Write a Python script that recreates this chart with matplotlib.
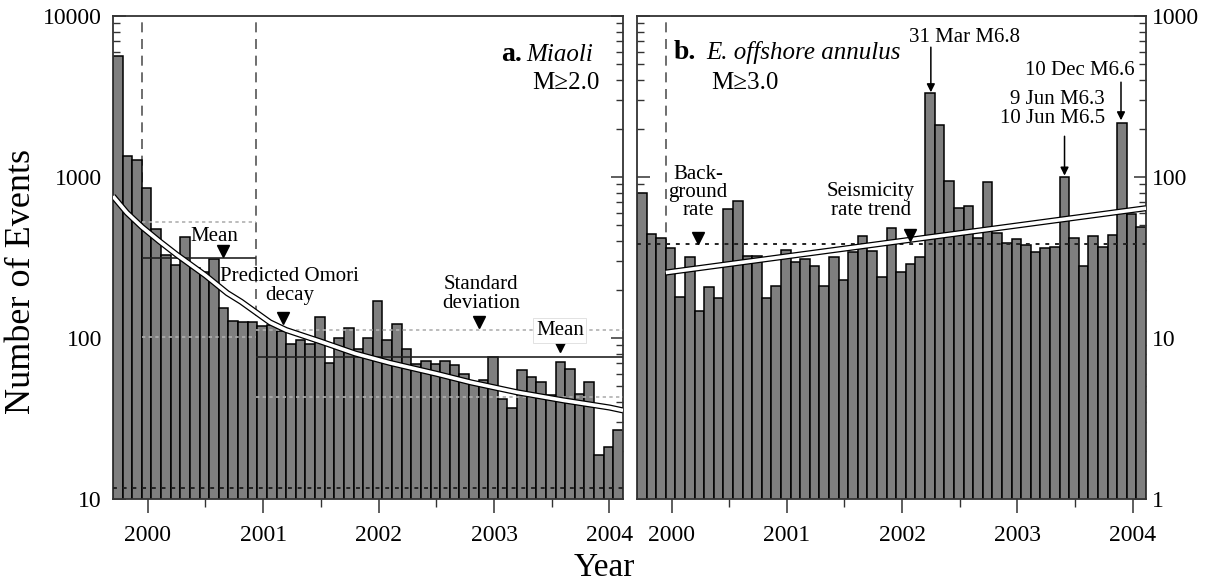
import numpy as np
import matplotlib.pyplot as plt
from matplotlib.ticker import FixedLocator, FuncFormatter, LogLocator, NullFormatter

plt.rcParams['font.family'] = ['Liberation Serif', 'DejaVu Serif']

# monthly bins starting at the Chi-Chi mainshock
BIN_START = 1999.70
BIN_W = 1.0 / 12

miaoli_counts = [5650, 1350, 1280, 850, 475, 328, 285, 425, 272, 257, 310,
                 153, 128, 126, 126, 118, 120, 110, 92, 97, 92, 135, 70, 100,
                 115, 85, 100, 170, 97, 123, 85, 69, 72, 69, 72, 68, 60, 52,
                 55, 76, 42, 37, 63, 57, 53, 44, 71, 64, 45, 53, 18.7, 21, 27]

offshore_counts = [79, 44, 42, 36, 18, 32, 14.8, 20.6, 17.7, 63, 71, 32.5,
                   32.5, 17.8, 21, 35, 29.7, 31, 28, 21, 32, 23, 34, 43, 34.5,
                   24, 48, 25.6, 29, 32, 331, 209, 95, 64, 66, 42, 93, 44.6,
                   39, 41, 38, 34, 36, 36.5, 100, 42, 28, 43, 36.5, 43.5, 216,
                   59, 49]

# Miaoli mean / standard deviation levels for the two windows
win1 = (1999.95, 2000.94)
win1_mean, win1_hi, win1_lo = 315, 525, 102
win2 = (2000.94, 2004.117)
win2_mean, win2_hi, win2_lo = 76, 112, 43
miaoli_floor = 11.7

# predicted Omori decay
omori_years = [1999.70, 1999.82, 1999.95, 2000.10, 2000.25, 2000.50, 2000.69,
               2000.81, 2001.06, 2001.20, 2001.50, 2001.80, 2002.10, 2002.50,
               2002.80, 2003.20, 2003.60, 2004.00, 2004.117]
omori_vals = [760, 600, 490, 400, 330, 245, 190, 168, 125, 112, 95, 80, 70,
              60, 53, 46, 41, 37, 35.5]

# E. offshore annulus background rate and rate trend
offshore_bg = 38.6
trend_years = [1999.95, 2004.117]
trend_vals = [25.5, 64]

XMIN, XMAX = 1999.70, 2004.117
BAR_C = '#7f7f7f'
SPINE_C = '#333333'

fig = plt.figure(figsize=(12.09, 5.87), dpi=100)
axa = fig.add_axes([113/1209, 88/587, 510/1209, 483/587])
axb = fig.add_axes([637/1209, 88/587, 509/1209, 483/587])


def style_axis(ax, ymin, ymax):
    ax.set_yscale('log')
    ax.set_xlim(XMIN, XMAX)
    ax.set_ylim(ymin, ymax)
    majors = [10.0**k for k in range(int(np.log10(ymin)), int(np.log10(ymax)) + 1)]
    ax.yaxis.set_major_locator(FixedLocator(majors))
    ax.yaxis.set_major_formatter(FuncFormatter(lambda v, _: f"{int(round(v))}"))
    ax.yaxis.set_minor_locator(LogLocator(base=10, subs=np.arange(2, 10)))
    ax.yaxis.set_minor_formatter(NullFormatter())
    ax.xaxis.set_major_locator(FixedLocator([2000, 2001, 2002, 2003, 2004]))
    ax.xaxis.set_major_formatter(FuncFormatter(lambda v, _: f"{int(round(v))}"))
    ax.xaxis.set_minor_locator(FixedLocator([2000.5, 2001.5, 2002.5, 2003.5]))
    ax.tick_params(axis='y', which='both', direction='in', left=True, right=True,
                   color=SPINE_C, labelsize=17)
    ax.tick_params(axis='y', which='major', length=9, width=1.1)
    ax.tick_params(axis='y', which='minor', length=5, width=1.0)
    ax.tick_params(axis='x', which='both', direction='out', top=False,
                   color=SPINE_C, labelsize=17)
    ax.tick_params(axis='x', which='major', length=10, width=1.1, pad=9)
    ax.tick_params(axis='x', which='minor', length=6, width=1.0)
    for s in ax.spines.values():
        s.set_color(SPINE_C)
        s.set_linewidth(1.3)


def draw_bars(ax, counts):
    x = BIN_START + BIN_W * np.arange(len(counts))
    ax.bar(x, counts, width=BIN_W, align='edge', color=BAR_C,
           edgecolor='black', linewidth=1.1, zorder=2)


def double_line(ax, xs, ys):
    ax.plot(xs, ys, color='black', lw=4.4, solid_capstyle='butt', zorder=4)
    ax.plot(xs, ys, color='white', lw=2.6, solid_capstyle='butt', zorder=5)


def marker(ax, x, y):
    ax.plot([x], [y], marker='v', color='black', markersize=9, ls='none', zorder=6)


# ---------------- panel a: Miaoli ----------------
style_axis(axa, 10, 10000)
axa.tick_params(axis='y', labelleft=True, labelright=False, pad=8)
axa.axvline(win1[0], color='#555555', lw=1.2, ls=(0, (6, 4)), zorder=1)
axa.axvline(win1[1], color='#555555', lw=1.2, ls=(0, (6, 4)), zorder=1)
draw_bars(axa, miaoli_counts)

axa.hlines(win1_mean, *win1, color='#222222', lw=1.2, zorder=3)
axa.hlines([win1_hi, win1_lo], *win1, color='#b0b0b0', lw=1.2, ls=(0, (2, 2)), zorder=3)
axa.hlines(win2_mean, *win2, color='#222222', lw=1.2, zorder=3)
axa.hlines([win2_hi, win2_lo], *win2, color='#b0b0b0', lw=1.2, ls=(0, (2, 2)), zorder=3)
axa.axhline(miaoli_floor, color='#222222', lw=1.4, ls=(0, (2, 3)), zorder=3)

double_line(axa, omori_years, omori_vals)

axa.text(2000.58, 430, 'Mean', ha='center', va='center', fontsize=15, zorder=7)
marker(axa, 2000.65, 345)
axa.text(2001.23, 210, 'Predicted Omori\ndecay', ha='center', va='center',
         fontsize=15, linespacing=0.95, zorder=7)
marker(axa, 2001.17, 134)
axa.text(2002.89, 188, 'Standard\ndeviation', ha='center', va='center',
         fontsize=15, linespacing=0.95, zorder=7)
marker(axa, 2002.87, 125)
axa.text(2003.57, 111, 'Mean', ha='center', va='center', fontsize=15, zorder=7,
         bbox=dict(facecolor='white', edgecolor='#dddddd', lw=0.6, pad=2))
marker(axa, 2003.57, 89)

axa.text(2003.24, 5730, 'a.', ha='right', va='center', fontsize=20,
         fontweight='bold', zorder=7)
axa.text(2003.28, 5730, 'Miaoli', ha='left', va='center', fontsize=18,
         style='italic', zorder=7)
axa.text(2003.91, 3850, 'M≥2.0', ha='right', va='center', fontsize=18, zorder=7)

# ---------------- panel b: E. offshore annulus ----------------
style_axis(axb, 1, 1000)
axb.tick_params(axis='y', labelleft=False, labelright=True, pad=4)
axb.axvline(win1[0], color='#555555', lw=1.2, ls=(0, (6, 4)), zorder=1)
draw_bars(axb, offshore_counts)
axb.axhline(offshore_bg, color='#222222', lw=1.4, ls=(0, (2, 3)), zorder=3)
double_line(axb, trend_years, trend_vals)

axb.text(2000.02, 597, 'b.', ha='left', va='center', fontsize=20,
         fontweight='bold', zorder=7)
axb.text(2000.30, 597, 'E. offshore annulus', ha='left', va='center',
         fontsize=18, style='italic', zorder=7)
axb.text(2000.34, 385, 'M≥3.0', ha='left', va='center', fontsize=18, zorder=7)

axb.text(2000.23, 80, 'Back-\nground\nrate', ha='center', va='center',
         fontsize=15, linespacing=0.95, zorder=7)
marker(axb, 2000.23, 42)
axb.text(2001.73, 71, 'Seismicity\nrate trend', ha='center', va='center',
         fontsize=15, linespacing=0.95, zorder=7)
marker(axb, 2002.07, 43.5)

arrow = dict(arrowstyle='-|>', color='black', lw=1.1, mutation_scale=12,
             shrinkA=0, shrinkB=0)
axb.text(2002.54, 740, '31 Mar M6.8', ha='center', va='center', fontsize=15, zorder=7)
axb.annotate('', xy=(2002.25, 336), xytext=(2002.25, 640), arrowprops=arrow, zorder=7)
axb.text(2004.02, 461, '10 Dec M6.6', ha='right', va='center', fontsize=15, zorder=7)
axb.annotate('', xy=(2003.90, 225), xytext=(2003.90, 388), arrowprops=arrow, zorder=7)
axb.text(2003.76, 264, '9 Jun M6.3\n10 Jun M6.5', ha='right', va='center',
         fontsize=15, linespacing=0.95, zorder=7)
axb.annotate('', xy=(2003.41, 102), xytext=(2003.41, 179), arrowprops=arrow, zorder=7)

fig.text(22/1209, 1 - 282/587, 'Number of Events', rotation=90,
         ha='center', va='center', fontsize=26)
fig.text(0.5, 1 - 568/587, 'Year', ha='center', va='center', fontsize=24)

fig.savefig('out.png', dpi=100, facecolor='white')
